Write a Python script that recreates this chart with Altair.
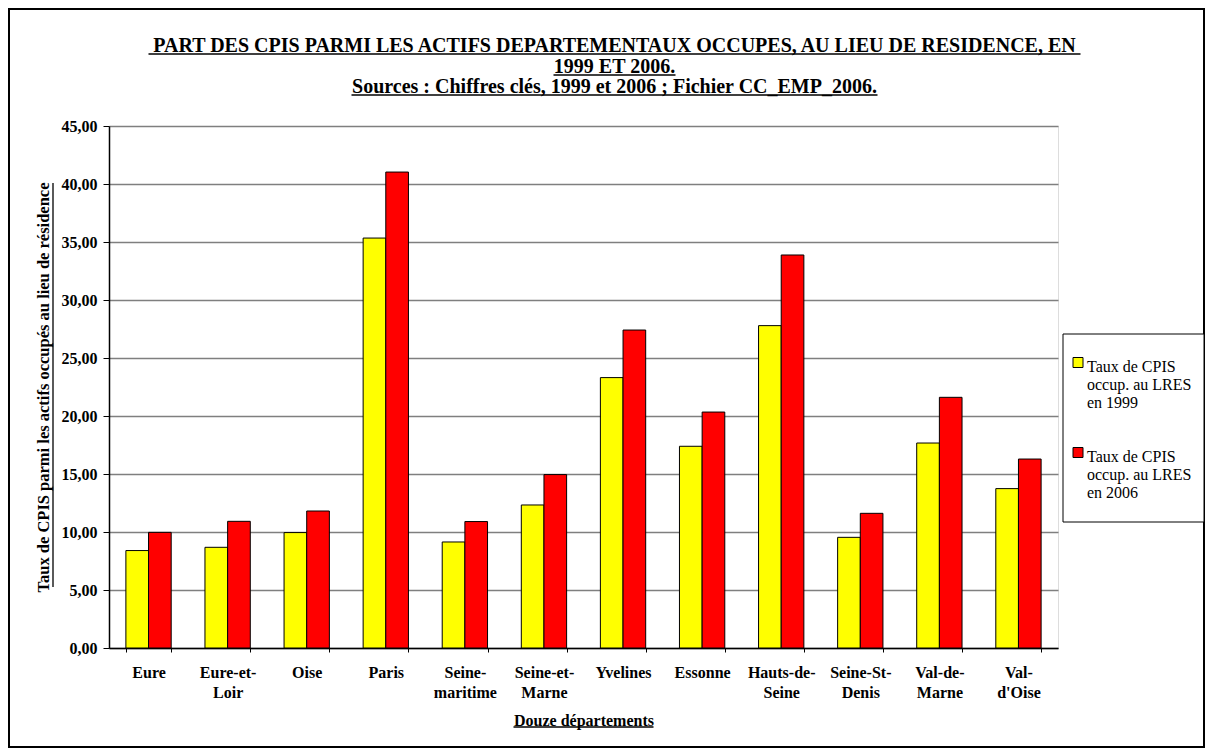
import altair as alt
import pandas as pd

departements = ["Eure", "Eure-et-Loir", "Oise", "Paris", "Seine-maritime", "Seine-et-Marne",
                "Yvelines", "Essonne", "Hauts-de-Seine", "Seine-St-Denis", "Val-de-Marne", "Val-d'Oise"]
taux_1999 = [8.40, 8.68, 9.95, 35.34, 9.14, 12.33, 23.31, 17.39, 27.79, 9.54, 17.67, 13.74]
taux_2006 = [9.97, 10.92, 11.81, 41.03, 10.90, 14.95, 27.41, 20.34, 33.88, 11.61, 21.61, 16.29]
series = ["Taux de CPIS occup. au LRES en 1999", "Taux de CPIS occup. au LRES en 2006"]
colors = ["#FFFF00", "#FF0000"]
y_ticks = [0, 5, 10, 15, 20, 25, 30, 35, 40, 45]
title_lines = [
    "PART DES CPIS PARMI LES ACTIFS DEPARTEMENTAUX OCCUPES, AU LIEU DE RESIDENCE, EN",
    "1999 ET 2006.",
    "Sources : Chiffres clés, 1999 et 2006 ; Fichier CC_EMP_2006.",
]
x_title = "Douze départements"
y_title = "Taux de CPIS parmi les actifs occupés au lieu de résidence"

rows = []
for d, a, b in zip(departements, taux_1999, taux_2006):
    rows.append({"departement": d, "serie": series[0], "taux": a})
    rows.append({"departement": d, "serie": series[1], "taux": b})
df = pd.DataFrame(rows)

FONT = "Liberation Serif"
W, H = 949, 522

bars = alt.Chart(df).mark_bar(stroke="black", strokeWidth=1).encode(
    x=alt.X("departement:N", sort=departements,
            scale=alt.Scale(paddingInner=0.427, paddingOuter=0.2135),
            axis=alt.Axis(
                title=x_title, labelAngle=0, tickBand="extent",
                labelExpr="lastindexof(datum.label,'-') < 0 ? datum.label : "
                          "[substring(datum.label,0,lastindexof(datum.label,'-')+1), "
                          "substring(datum.label,lastindexof(datum.label,'-')+1)]",
                labelFont=FONT, labelFontSize=16, labelFontWeight="bold", labelColor="black",
                labelPadding=12, labelLineHeight=20,
                titleFont=FONT, titleFontSize=16, titleFontWeight="bold", titleColor="black",
                titlePadding=12,
                tickColor="black", tickSize=4, domainColor="black", domainWidth=1.5,
                grid=False)),
    xOffset=alt.XOffset("serie:N", sort=series,
                        scale=alt.Scale(paddingInner=0, paddingOuter=0)),
    y=alt.Y("taux:Q", scale=alt.Scale(domain=[0, 45], nice=False),
            axis=alt.Axis(
                title=y_title, values=y_ticks,
                labelExpr="replace(format(datum.value, '.2f'), '.', ',')",
                labelFont=FONT, labelFontSize=16, labelFontWeight="bold", labelColor="black",
                labelPadding=6,
                titleFont=FONT, titleFontSize=16.5, titleFontWeight="bold", titleColor="black",
                titlePadding=10,
                tickColor="black", tickSize=6, domainColor="black", domainWidth=1.5,
                grid=True, gridColor="#7f7f7f", gridWidth=1.4)),
    color=alt.Color("serie:N", sort=series,
                    scale=alt.Scale(domain=series, range=colors),
                    legend=alt.Legend(
                        title=None, orient="none", legendX=961, legendY=225,
                        labelExpr="[substring(datum.label,0,12), substring(datum.label,13,27), substring(datum.label,28)]",
                        labelFont=FONT, labelFontSize=16, labelColor="black",
                        labelBaseline="top", labelOffset=1,
                        symbolType="M-1,-0.3H1V1.7H-1Z", symbolSize=100,
                        symbolStrokeColor="black", symbolStrokeWidth=1,
                        rowPadding=30, padding=0)),
)

one = pd.DataFrame({"k": [0]})


def hline(x1, x2, y, w=1.3):
    return alt.Chart(one).mark_rule(color="black", strokeWidth=w).encode(
        x=alt.value(x1), x2=alt.value(x2), y=alt.value(y))


def vline(x, y1, y2, w=1.3):
    return alt.Chart(one).mark_rule(color="black", strokeWidth=w).encode(
        x=alt.value(x), y=alt.value(y1), y2=alt.value(y2))


legend_box = alt.Chart(one).mark_rect(fill="white", stroke="black", strokeWidth=1).encode(
    x=alt.value(954), x2=alt.value(1095), y=alt.value(208), y2=alt.value(396))
outer_box = alt.Chart(one).mark_rect(fill=None, stroke="black", strokeWidth=2).encode(
    x=alt.value(-100), x2=alt.value(1095), y=alt.value(-117), y2=alt.value(621))

underlines = [
    hline(39.5, 971.5, -72),     # title line 1
    hline(444.5, 566.5, -51),    # title line 2
    hline(242.5, 768.5, -31),    # title line 3
    hline(404.5, 544.5, 601),    # x title
    vline(-56, 57, 461),         # y title
]

chart = alt.layer(outer_box, legend_box, *underlines, bars).properties(
    width=W, height=H,
    autosize="none",
    padding={"left": 101, "top": 118, "right": 147, "bottom": 100},
    title=alt.Title(text=title_lines, font=FONT, fontSize=20, fontWeight="bold",
                    color="black", anchor="middle", lineHeight=20.5, offset=-89, dx=31),
).configure_view(stroke="#8c8c8c", strokeWidth=1.5).configure(background="white")

chart.save("out.html", embed_options={"renderer": "svg", "actions": False})
